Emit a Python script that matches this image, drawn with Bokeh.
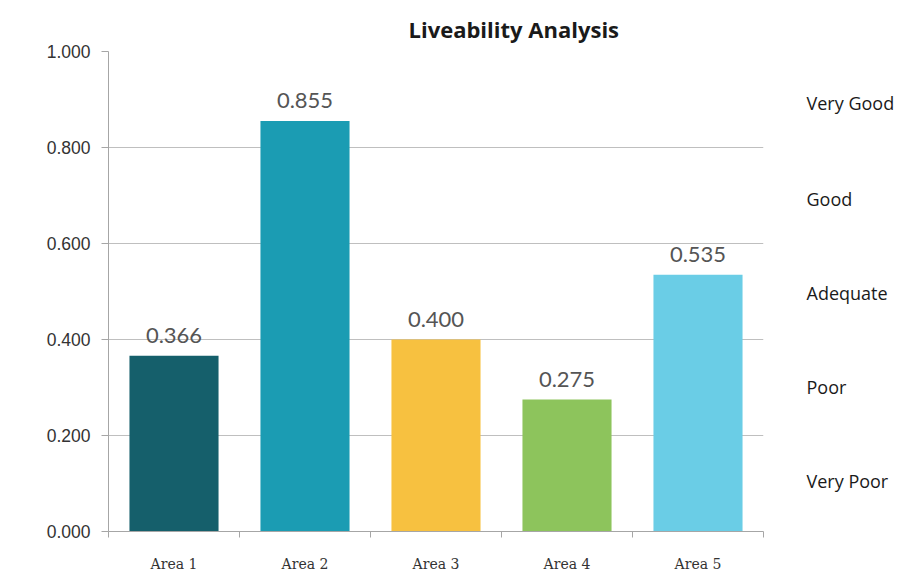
from bokeh.plotting import figure
from bokeh.models import (ColumnDataSource, FactorRange, Range1d, LinearAxis,
                          FixedTicker, Title, LabelSet, NumeralTickFormatter)
from bokeh.core.properties import value
from bokeh.embed import file_html
from bokeh.resources import INLINE

areas = ["Area 1", "Area 2", "Area 3", "Area 4", "Area 5"]
scores = [0.366, 0.855, 0.400, 0.275, 0.535]
colors = ["#155f6b", "#1b9cb3", "#f7c140", "#8dc45c", "#6acde6"]
score_labels = ["0.366", "0.855", "0.400", "0.275", "0.535"]
y_ticks = [0.0, 0.2, 0.4, 0.6, 0.8, 1.0]
rating_ticks = [0.105, 0.302, 0.496, 0.692, 0.892]
rating_labels = ["Very Poor", "Poor", "Adequate", "Good", "Very Good"]

src = ColumnDataSource(dict(area=areas, score=scores, color=colors, label=score_labels))

p = figure(width=905, height=575, x_range=FactorRange(*areas), y_range=Range1d(0, 1),
           output_backend="svg", toolbar_location=None, x_axis_location=None, y_axis_location=None,
           min_border_left=108, min_border_right=142, min_border_top=51, min_border_bottom=44)
p.outline_line_color = None
p.background_fill_color = "white"
p.border_fill_color = "white"

p.title = Title(text="Liveability Analysis", align="left", offset=300, standoff=15,
                text_font="Open Sans", text_font_size="22px", text_font_style="bold",
                text_color="#1a1a1a")

p.vbar(x="area", top="score", width=0.68, color="color", line_color=None, source=src)

p.add_layout(LabelSet(x="area", y="score", text="label", source=src, y_offset=13,
                      text_align="center", text_baseline="alphabetic",
                      text_font=value("Lato"), text_font_size=value("22px"),
                      text_color=value("#555555")))

# left axis
ya = LinearAxis(ticker=FixedTicker(ticks=y_ticks))
ya.formatter = NumeralTickFormatter(format="0.000")
ya.axis_line_color = "#a6a6a6"
ya.major_tick_line_color = "#a6a6a6"
ya.major_tick_out = 7
ya.major_tick_in = 0
ya.minor_tick_line_color = None
ya.major_label_standoff = 11
ya.major_label_text_font = "Liberation Sans"
ya.major_label_text_font_size = "17.5px"
ya.major_label_text_color = "#333333"
p.add_layout(ya, "left")

# right rating labels
ra = LinearAxis(ticker=FixedTicker(ticks=rating_ticks),
                major_label_overrides={t: l for t, l in zip(rating_ticks, rating_labels)})
ra.axis_line_color = None
ra.major_tick_line_color = None
ra.minor_tick_line_color = None
ra.major_label_standoff = 37
ra.major_label_text_font = "Open Sans"
ra.major_label_text_font_size = "18px"
ra.major_label_text_color = "#1a1a1a"
p.add_layout(ra, "right")

# bottom axis: labels at category centres, tick marks at category boundaries
centres = [i + 0.5 for i in range(len(areas))]
bounds = [float(i) for i in range(len(areas) + 1)]
xa = LinearAxis(ticker=FixedTicker(ticks=centres, minor_ticks=bounds),
                major_label_overrides={c: a for c, a in zip(centres, areas)})
xa.axis_line_color = "#a6a6a6"
xa.major_tick_line_color = None
xa.minor_tick_line_color = "#a6a6a6"
xa.minor_tick_out = 6
xa.minor_tick_in = 0
xa.major_tick_out = 6
xa.major_label_standoff = 18
xa.major_label_text_font = "DejaVu Serif"
xa.major_label_text_font_size = "14px"
xa.major_label_text_color = "#333333"
p.add_layout(xa, "below")

p.xgrid.visible = False
p.ygrid.grid_line_color = "#bfbfbf"
p.ygrid.ticker = FixedTicker(ticks=y_ticks[1:])

open("out.html", "w").write(file_html(p, INLINE))
